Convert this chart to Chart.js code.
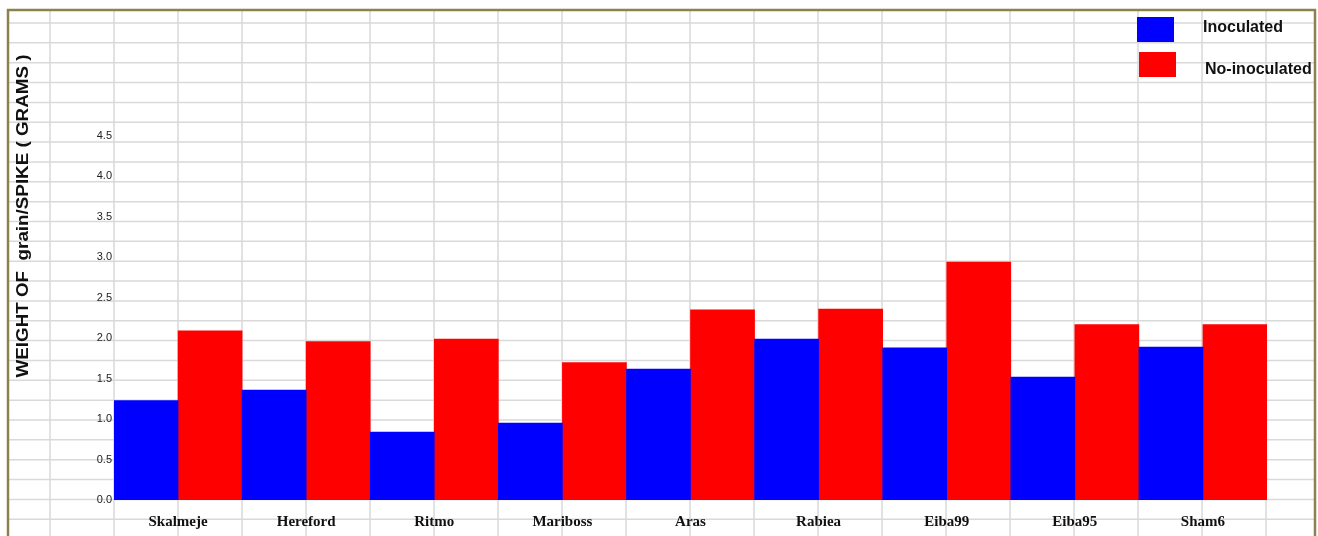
<!DOCTYPE html>
<html>
<head>
<meta charset="utf-8">
<script src="https://cdn.jsdelivr.net/npm/chart.js@4"></script>
<style>
    body { margin: 0; background: #fff; }
    #wrap { width: 1318px; height: 536px; }
</style>
</head>
<body>
<div id="wrap"><canvas id="grainChart" width="1318" height="536"></canvas></div>
<script>
// Chart data
const varieties = ['Skalmeje', 'Hereford', 'Ritmo', 'Mariboss', 'Aras', 'Rabiea', 'Eiba99', 'Eiba95', 'Sham6'];
const inoculated = [1.23, 1.36, 0.84, 0.95, 1.62, 1.99, 1.88, 1.52, 1.89];
const noInoculated = [2.09, 1.96, 1.99, 1.70, 2.35, 2.36, 2.94, 2.17, 2.17];
const seriesNames = ['Inoculated', 'No-inoculated'];
const yTicks = [0, 0.5, 1, 1.5, 2, 2.5, 3, 3.5, 4, 4.5];

// Spreadsheet-like background, border, legend and axis title
const sheetPlugin = {
    id: 'sheet',
    beforeDraw(chart) {
        const ctx = chart.ctx;
        ctx.save();
        ctx.fillStyle = '#ffffff';
        ctx.fillRect(0, 0, chart.width, chart.height);
        ctx.strokeStyle = '#d9d9d9';
        ctx.lineWidth = 1.5;
        for (let x = 50; x < chart.width; x += 64) {
            ctx.beginPath();
            ctx.moveTo(x, 10);
            ctx.lineTo(x, chart.height);
            ctx.stroke();
        }
        for (let y = 23; y < chart.height; y += 19.85) {
            ctx.beginPath();
            ctx.moveTo(8, y);
            ctx.lineTo(1315, y);
            ctx.stroke();
        }
        ctx.restore();
    },
    afterDraw(chart) {
        const ctx = chart.ctx;
        ctx.save();
        // olive frame
        ctx.strokeStyle = '#8c804f';
        ctx.lineWidth = 2.5;
        ctx.beginPath();
        ctx.moveTo(8, chart.height);
        ctx.lineTo(8, 10);
        ctx.lineTo(1315, 10);
        ctx.lineTo(1315, chart.height);
        ctx.stroke();

        // legend
        const ds = chart.data.datasets;
        ctx.fillStyle = ds[0].backgroundColor;
        ctx.fillRect(1137, 17, 37, 25);
        ctx.fillStyle = ds[1].backgroundColor;
        ctx.fillRect(1139, 52, 37, 25);
        ctx.fillStyle = '#111';
        ctx.font = 'bold 16px "Liberation Sans", Arial, sans-serif';
        ctx.textBaseline = 'middle';
        ctx.textAlign = 'left';
        ctx.fillText(ds[0].label, 1203, 28);
        ctx.fillText(ds[1].label, 1205, 70);

        // y axis title, stretched along its length like the original
        const title = 'WEIGHT OF  grain/SPIKE ( GRAMS )';
        ctx.font = 'bold 17px "Liberation Sans", Arial, sans-serif';
        const w = ctx.measureText(title).width;
        ctx.translate(23, 216);
        ctx.rotate(-Math.PI / 2);
        ctx.scale(323 / w, 1);
        ctx.textAlign = 'center';
        ctx.fillText(title, 0, 0);
        ctx.restore();
    }
};

new Chart(document.getElementById('grainChart'), {
    type: 'bar',
    data: {
        labels: varieties,
        datasets: [
            { label: seriesNames[0], data: inoculated, backgroundColor: '#0000ff' },
            { label: seriesNames[1], data: noInoculated, backgroundColor: '#ff0000' }
        ]
    },
    options: {
        responsive: false,
        animation: false,
        devicePixelRatio: 1,
        layout: { padding: { top: 136, right: 51, bottom: 0, left: 0 } },
        datasets: {
            bar: { categoryPercentage: 1.0, barPercentage: 1.0, borderWidth: 0 }
        },
        plugins: {
            legend: { display: false },
            tooltip: { enabled: false }
        },
        scales: {
            x: {
                grid: { display: false },
                border: { display: false },
                ticks: {
                    padding: 5,
                    color: '#111',
                    font: { family: '"Liberation Serif", "Times New Roman", serif', size: 15, weight: 'bold' }
                },
                afterFit: (scale) => { scale.height = 36; }
            },
            y: {
                min: 0,
                max: 4.5,
                grid: { display: false, drawTicks: false },
                border: { display: false },
                afterBuildTicks: (scale) => { scale.ticks = yTicks.map(v => ({ value: v })); },
                ticks: {
                    padding: 2,
                    color: '#222',
                    font: { family: '"Liberation Sans", Arial, sans-serif', size: 11 },
                    callback: (v) => Number(v).toFixed(1)
                },
                afterFit: (scale) => { scale.width = 114; }
            }
        }
    },
    plugins: [sheetPlugin]
});
</script>
</body>
</html>
